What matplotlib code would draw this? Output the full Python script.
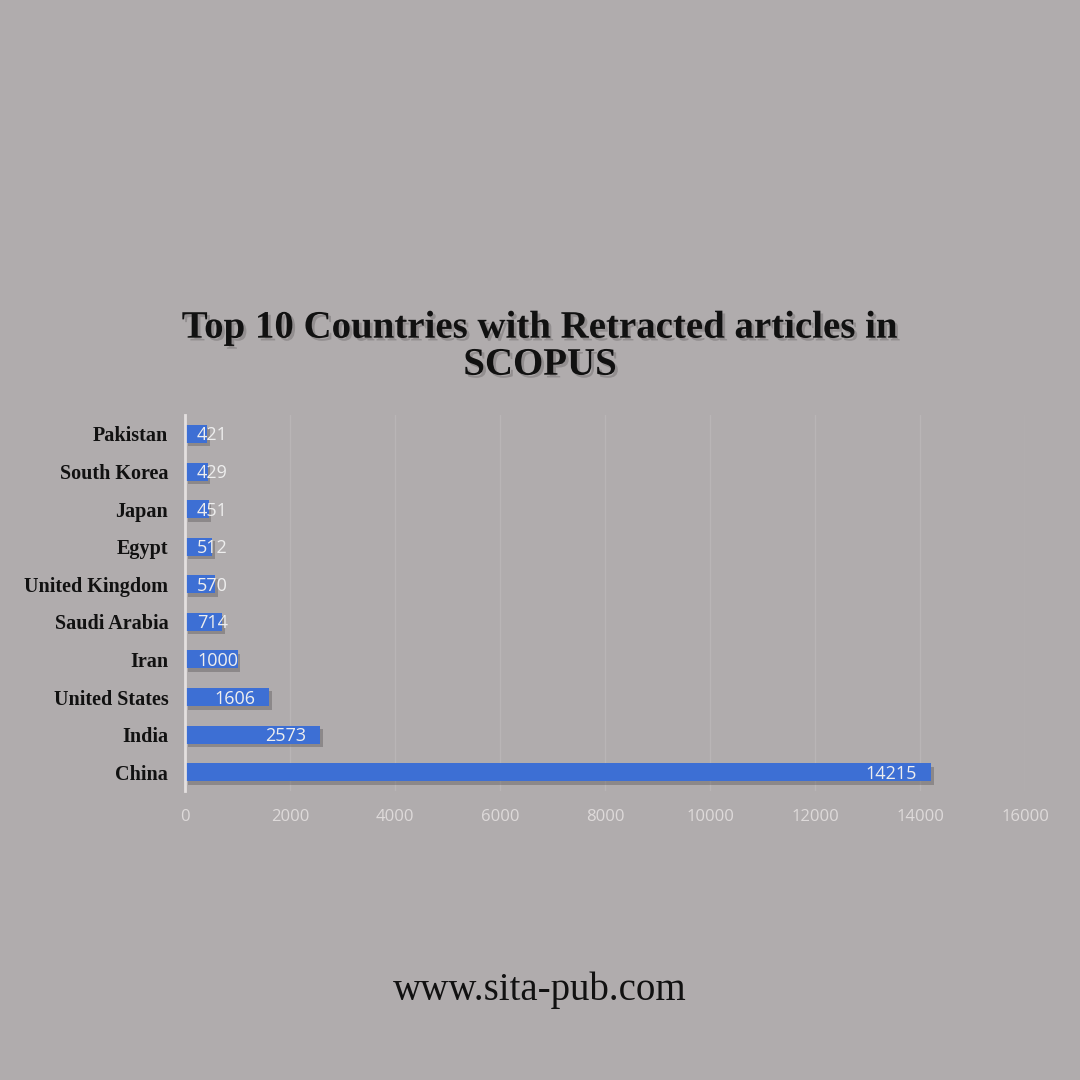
import numpy as np
import matplotlib.pyplot as plt
import matplotlib.patheffects as pe

countries = ['China', 'India', 'United States', 'Iran', 'Saudi Arabia',
             'United Kingdom', 'Egypt', 'Japan', 'South Korea', 'Pakistan']
retracted = [14215, 2573, 1606, 1000, 714, 570, 512, 451, 429, 421]
xticks = [0, 2000, 4000, 6000, 8000, 10000, 12000, 14000, 16000]

BG = '#b0acad'
BAR = '#3d6fd4'

fig = plt.figure(figsize=(10.8, 10.8), dpi=100, facecolor=BG)
ax = fig.add_axes([0.1713, 0.2676, 0.7778, 0.348])
ax.set_facecolor(BG)

y = np.arange(len(countries))
bars = ax.barh(y, retracted, height=0.48, color=BAR, zorder=3)
for b in bars:
    b.set_path_effects([pe.SimplePatchShadow(offset=(2, -2.5), shadow_rgbFace='#4a4648', alpha=0.35),
                        pe.Normal()])

for yi, v in zip(y, retracted):
    if v > 1200:
        ax.text(v - 270, yi - 0.04, str(v), ha='right', va='center',
                color='#eeeeee', fontsize=13, family='Open Sans', zorder=4)
    else:
        ax.text(230, yi - 0.04, str(v), ha='left', va='center',
                color='#eeeeee', fontsize=13, family='Open Sans', zorder=4)

ax.set_xlim(0, 16000)
ax.set_ylim(-0.5, len(countries) - 0.5)
ax.set_xticks(xticks)
ax.set_xticklabels([str(t) for t in xticks], color='#dedada', fontsize=12, family='Open Sans')
ax.set_yticks(y)
ax.set_yticklabels(countries, fontsize=14.5, fontweight='bold', family='Liberation Serif', color='#111111')
ax.tick_params(axis='x', length=0, pad=13)
ax.tick_params(axis='y', length=0, pad=12)
ax.grid(axis='x', color='#b9b5b6', linewidth=1, zorder=0)
for s in ['top', 'right', 'bottom']:
    ax.spines[s].set_visible(False)
ax.spines['left'].set_color('#e4e0e0')
ax.spines['left'].set_linewidth(2)
ax.spines['left'].set_zorder(5)

fig.text(0.5, 0.679, 'Top 10 Countries with Retracted articles in\nSCOPUS',
         ha='center', va='center', fontsize=28, fontweight='bold',
         family='Liberation Serif', color='#111111', linespacing=1.0,
         path_effects=[pe.withSimplePatchShadow(offset=(2, -2), shadow_rgbFace='#6e6a6b', alpha=0.45)])

fig.text(0.5, 0.083, 'www.sita-pub.com', ha='center', va='center',
         fontsize=28, family='Liberation Serif', color='#111111')

fig.savefig('out.png', dpi=100, facecolor=BG)
